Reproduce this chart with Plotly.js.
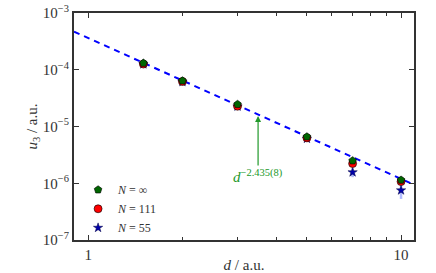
<!DOCTYPE html>
<html><head><meta charset="utf-8">
<script src="https://cdn.plot.ly/plotly-3.0.1.min.js"></script>
<style>html,body{margin:0;padding:0;background:#fff}#c{width:436px;height:273px}</style>
</head><body><div id="c"></div>
<script>
const d = [1.5, 2, 3, 5, 7, 10];
const uInf = [1.31e-4, 6.4e-5, 2.46e-5, 6.6e-6, 2.5e-6, 1.14e-6];
const u111 = [1.26e-4, 6.2e-5, 2.28e-5, 6.3e-6, 2.22e-6, 1.07e-6];
const u55 = [1.25e-4, 6.1e-5, 2.25e-5, 6.1e-6, 1.56e-6, 7.5e-7];
const err55 = [0, 0, 0, 0, 2.8e-7, 2.2e-7];
const fitD = [0.9, 11];
const fitU = [4.7e-4, 9.4e-7];
const names = ['<i>N</i> = ∞', '<i>N</i> = 111', '<i>N</i> = 55'];
const yTickVals = [1e-7, 1e-6, 1e-5, 1e-4, 1e-3];
const yTickText = ['10<sup>−7</sup>', '10<sup>−6</sup>', '10<sup>−5</sup>', '10<sup>−4</sup>', '10<sup>−3</sup>'];
const xTickVals = [1, 10];
const xTickText = ['1', '10'];
const xMinor = [2, 3, 4, 5, 6, 7, 8, 9];
const fitLabel = '<i>d</i><sup>−2.435(8)</sup>';
const arrowAt = [3.49, 1.53e-5];

const font = 'Liberation Serif, DejaVu Serif, serif';
const starMarker = {symbol: 'star', size: 7, color: '#0000aa', line: {color: '#000044', width: 0.5}};
const traces = [
  {x: fitD, y: fitU, mode: 'lines', line: {color: '#0000ff', dash: '6px,5px', width: 2}, showlegend: false, hoverinfo: 'skip'},
  {x: d, y: u55, mode: 'markers', name: names[2], showlegend: false, marker: starMarker,
   error_y: {type: 'data', array: err55, color: 'rgba(100,120,255,0.5)', thickness: 2.5, width: 0}},
  {x: [null], y: [null], mode: 'markers', name: names[2], marker: starMarker},
  {x: d, y: u111, mode: 'markers', name: names[1],
   marker: {symbol: 'circle', size: 8, color: '#ff0000', line: {color: '#000000', width: 0.6}}},
  {x: d, y: uInf, mode: 'markers', name: names[0],
   marker: {symbol: 'pentagon', size: 8, color: '#006600', line: {color: '#000000', width: 0.6}}}
];
const axCommon = {showgrid: false, zeroline: false, showline: true, linecolor: '#333', linewidth: 2, mirror: 'allticks',
  ticks: 'inside', tickcolor: '#333', ticklen: 5, tickwidth: 1, tickfont: {family: font, size: 15, color: '#333'}};
const layout = {
  width: 436, height: 273, margin: {l: 74, r: 22, t: 13, b: 33},
  paper_bgcolor: '#fff', plot_bgcolor: '#fff',
  font: {family: font, color: '#333'},
  xaxis: Object.assign({}, axCommon, {type: 'log', range: [-0.0458, 1.0414], tickmode: 'array', tickvals: xTickVals, ticktext: xTickText,
    minor: {tickmode: 'array', tickvals: xMinor, ticks: 'inside', ticklen: 3, tickcolor: '#333', showgrid: false},
    title: {text: '<i>d</i> / a.u.', font: {family: font, size: 15, color: '#333'}, standoff: 2}}),
  yaxis: Object.assign({}, axCommon, {type: 'log', range: [-7, -3], tickmode: 'array', tickvals: yTickVals, ticktext: yTickText,
    title: {text: '<i>u</i><sub>3</sub> / a.u.', font: {family: font, size: 15, color: '#333'}, standoff: 2}}),
  showlegend: true,
  legend: {x: 0.012, y: -0.01, xanchor: 'left', yanchor: 'bottom', traceorder: 'reversed', bgcolor: 'rgba(0,0,0,0)',
    font: {family: font, size: 12, color: '#333'}, tracegroupgap: 0},
  annotations: [{x: Math.log10(arrowAt[0]), y: Math.log10(arrowAt[1]), xref: 'x', yref: 'y', text: fitLabel,
    showarrow: true, arrowhead: 2, arrowsize: 1, arrowwidth: 1.2, arrowcolor: '#22992b', ax: 0, ay: 60,
    font: {family: font, size: 15, color: '#22992b'}}]
};
Plotly.newPlot('c', traces, layout, {staticPlot: true});
</script></body></html>
